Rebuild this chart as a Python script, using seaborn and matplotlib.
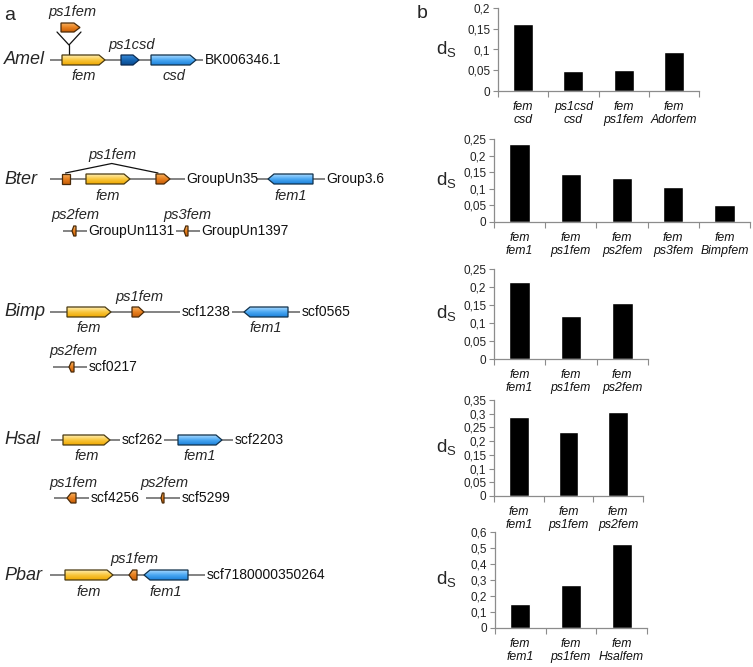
import numpy as np
import matplotlib
matplotlib.use('Agg')
import matplotlib.pyplot as plt
import matplotlib.transforms as mtrans
from matplotlib.patches import Polygon
from matplotlib.colors import LinearSegmentedColormap
from matplotlib.ticker import MultipleLocator, FuncFormatter
import seaborn as sns

# ---- panel b data: dS between gene pairs ----
amel_pairs = ['fem\ncsd', 'ps1csd\ncsd', 'fem\nps1fem', 'fem\nAdorfem']
amel_ds = [0.161, 0.048, 0.050, 0.093]
bter_pairs = ['fem\nfem1', 'fem\nps1fem', 'fem\nps2fem', 'fem\nps3fem', 'fem\nBimpfem']
bter_ds = [0.236, 0.144, 0.132, 0.105, 0.050]
bimp_pairs = ['fem\nfem1', 'fem\nps1fem', 'fem\nps2fem']
bimp_ds = [0.215, 0.120, 0.156]
hsal_pairs = ['fem\nfem1', 'fem\nps1fem', 'fem\nps2fem']
hsal_ds = [0.287, 0.232, 0.305]
pbar_pairs = ['fem\nfem1', 'fem\nps1fem', 'fem\nHsalfem']
pbar_ds = [0.149, 0.269, 0.527]

# ---- panel a data: schematic loci (diagram units) ----
# scaffolds: (start, end, name, row)
amel_scaffolds = [(50, 203, 'BK006346.1', 0)]
bter_scaffolds = [(50, 185, 'GroupUn35', 0), (257, 325, 'Group3.6', 0),
                  (63, 87, 'GroupUn1131', 1), (176, 200, 'GroupUn1397', 1)]
bimp_scaffolds = [(50, 180, 'scf1238', 0), (232, 300, 'scf0565', 0),
                  (53, 87, 'scf0217', 1)]
hsal_scaffolds = [(51, 120, 'scf262', 0), (164, 233, 'scf2203', 0),
                  (54, 89, 'scf4256', 1), (146, 180, 'scf5299', 1)]
pbar_scaffolds = [(50, 205, 'scf7180000350264', 0)]

# genes: (name, start, end, strand, kind, row, label side)
amel_genes = [('fem', 62, 105, 1, 'fem', 0, 'below'),
              ('ps1csd', 121, 139, 1, 'pscsd', 0, 'above'),
              ('csd', 151, 196, 1, 'blue', 0, 'below'),
              ('ps1fem', 61, 80, 1, 'ps', 1, 'above')]
bter_genes = [('', 62, 70, 0, 'ps', 0, None),
              ('fem', 86, 130, 1, 'fem', 0, 'below'),
              ('', 156, 170, 1, 'ps', 0, None),
              ('fem1', 268, 313, -1, 'blue', 0, 'below'),
              ('ps2fem', 72, 76, -1, 'ps', 1, 'above'),
              ('ps3fem', 184, 188, -1, 'ps', 1, 'above')]
bimp_genes = [('fem', 67, 111, 1, 'fem', 0, 'below'),
              ('ps1fem', 132, 144, 1, 'ps', 0, 'above'),
              ('fem1', 244, 288, -1, 'blue', 0, 'below'),
              ('ps2fem', 69, 74, -1, 'ps', 1, 'above')]
hsal_genes = [('fem', 63, 110, 1, 'fem', 0, 'below'),
              ('fem1', 178, 222, 1, 'blue', 0, 'below'),
              ('ps1fem', 67, 76, -1, 'ps', 1, 'above'),
              ('ps2fem', 161, 164, -1, 'ps', 1, 'above')]
pbar_genes = [('fem', 65, 113, 1, 'fem', 0, 'below'),
              ('ps1fem', 129, 137, -1, 'ps', 0, 'above'),
              ('fem1', 144, 188, -1, 'blue', 0, 'below')]
amel_insert_site = 69  # ps1fem inserted into fem

species = ['Amel', 'Bter', 'Bimp', 'Hsal', 'Pbar']
track_y = [[60, 27.5], [179, 231], [312, 367], [440, 498], [575]]

sns.set_theme(style='white')
plt.rcParams['font.family'] = ['Liberation Sans', 'DejaVu Sans']

W, H = 753, 667
fig = plt.figure(figsize=(W / 100, H / 100), dpi=100)
fig.patch.set_facecolor('white')

gene_cmaps = {
    'fem': LinearSegmentedColormap.from_list('fem', ['#ffeeb0', '#f9c63c', '#eea800']),
    'ps': LinearSegmentedColormap.from_list('ps', ['#f7b060', '#e8801e', '#c85f08']),
    'pscsd': LinearSegmentedColormap.from_list('pscsd', ['#3a8ad6', '#1766b4', '#0a4a8c']),
    'blue': LinearSegmentedColormap.from_list('blue', ['#a6d8ff', '#4aa8f2', '#1c80da']),
}
edge_cols = {'fem': '#4a3a10', 'ps': '#4a2a08', 'pscsd': '#0a2a50', 'blue': '#10304a'}


def draw_gene(ax, x0, x1, y, strand, kind, h=10):
    head = 0 if strand == 0 else min(6, 0.45 * (x1 - x0))
    if strand >= 0:
        pts = [(x0, y - h / 2), (x1 - head, y - h / 2), (x1, y),
               (x1 - head, y + h / 2), (x0, y + h / 2)]
    else:
        pts = [(x0, y), (x0 + head, y - h / 2), (x1, y - h / 2),
               (x1, y + h / 2), (x0 + head, y + h / 2)]
    poly = Polygon(pts, closed=True, fc='none', ec=edge_cols[kind], lw=0.9, zorder=4)
    ax.add_patch(poly)
    grad = np.linspace(0, 1, 40).reshape(-1, 1)
    im = ax.imshow(grad, cmap=gene_cmaps[kind], extent=(x0, x1, y + h / 2, y - h / 2),
                   aspect='auto', zorder=3, interpolation='bilinear')
    im.set_clip_path(poly)


# ---- panel a ----
axa = fig.add_axes([0, 0, 380 / W, 1])
axa.set_xlim(0, 380)
axa.set_ylim(H, 0)
axa.axis('off')

all_scaffolds = [amel_scaffolds, bter_scaffolds, bimp_scaffolds, hsal_scaffolds, pbar_scaffolds]
all_genes = [amel_genes, bter_genes, bimp_genes, hsal_genes, pbar_genes]

for sp, ys, scafs, genes in zip(species, track_y, all_scaffolds, all_genes):
    axa.text(4, ys[0], sp, fontsize=13, fontstyle='italic', ha='left', va='center')
    for s, e, name, row in scafs:
        axa.plot([s, e], [ys[row], ys[row]], color='#7a7a7a', lw=1.3, zorder=2,
                 solid_capstyle='butt')
        axa.text(e + 1.5, ys[row], name, fontsize=10, ha='left', va='center', color='#111')
    for name, s, e, strand, kind, row, side in genes:
        y = ys[row]
        h = 9 if (sp == 'Amel' and row == 1) else 10
        draw_gene(axa, s, e, y, strand, kind, h=h)
        if side == 'below':
            axa.text((s + e) / 2, y + 16.5, name, fontsize=10.5, fontstyle='italic',
                     ha='center', va='center')
        elif side == 'above':
            axa.text((s + e) / 2 + 1.5, y - 15.5, name, fontsize=10.5, fontstyle='italic',
                     ha='center', va='center')

# Amel: Y-shaped insertion of ps1fem into fem
yi, yf = track_y[0][1], track_y[0][0]
axa.plot([amel_insert_site - 12, amel_insert_site, amel_insert_site + 12],
         [yi + 4.5, yf - 15, yi + 4.5], color='#111', lw=0.9, zorder=2)
axa.plot([amel_insert_site, amel_insert_site], [yf - 15, yf - 5], color='#111', lw=0.9, zorder=2)

# Bter: split ps1fem exons joined by a connector
ex1, ex2 = bter_genes[0], bter_genes[2]
yb = track_y[1][0]
c1, c2 = (ex1[1] + ex1[2]) / 2 - 0.5, (ex2[1] + ex2[2]) / 2 - 5
peak = (c1 + c2) / 2
axa.plot([c1, peak, c2], [yb - 6, yb - 15.5, yb - 6], color='#111', lw=0.9, zorder=2)
axa.text(peak + 1, yb - 24, 'ps1fem', fontsize=10.5, fontstyle='italic',
         ha='center', va='center')

fig.text(10 / W, 1 - 15 / H, 'a', fontsize=14, ha='center', va='center')
fig.text(422 / W, 1 - 14 / H, 'b', fontsize=14, ha='center', va='center')

# ---- panel b ----
charts = [(amel_pairs, amel_ds, 0.2, 0.05), (bter_pairs, bter_ds, 0.25, 0.05),
          (bimp_pairs, bimp_ds, 0.25, 0.05), (hsal_pairs, hsal_ds, 0.35, 0.05),
          (pbar_pairs, pbar_ds, 0.6, 0.1)]
# (left px, right px, zero px, top px)
boxes = [(498, 699, 91, 8), (494, 750, 222, 139), (494, 648, 359, 269),
         (494, 643, 496, 400), (495, 647, 628, 532)]

fmt = FuncFormatter(lambda v, p: f'{v:.2f}'.rstrip('0').rstrip('.').replace('.', ','))
grey = '#8c8c8c'

for (labels, vals, ymax, step), (l, r, y0, yt) in zip(charts, boxes):
    ax = fig.add_axes([l / W, 1 - y0 / H, (r - l) / W, (y0 - yt) / H])
    n = len(labels)
    sns.barplot(x=labels, y=vals, color='black', width=0.4, saturation=1, ax=ax)
    ax.set_xlim(-0.5, n - 0.5)
    ax.set_ylim(0, ymax)
    ax.yaxis.set_major_locator(MultipleLocator(step))
    ax.yaxis.set_major_formatter(fmt)
    ax.set_xticks(range(n))
    ax.set_xticklabels(labels, fontstyle='italic', linespacing=1.12)
    ax.set_xticks(np.arange(-0.5, n), minor=True)
    ax.tick_params(axis='x', which='major', bottom=True, length=0, pad=7.5,
                   labelsize=8.8, labelcolor='#111')
    ax.tick_params(axis='x', which='minor', bottom=True, length=4, color=grey,
                   width=0.8, direction='out')
    ax.tick_params(axis='y', left=True, length=3.5, color=grey, width=0.8,
                   direction='out', labelsize=8.5, pad=2, labelcolor='#222')
    sns.despine(ax=ax)
    for side in ['left', 'bottom']:
        ax.spines[side].set_color(grey)
        ax.spines[side].set_linewidth(0.9)
    ax.set_xlabel('')
    ax.set_ylabel(r'd$_\mathregular{S}$', rotation=0, fontsize=13.5, ha='center', va='center')
    ax.yaxis.set_label_coords(446 / W, 0.5,
                              transform=mtrans.blended_transform_factory(fig.transFigure, ax.transAxes))

fig.savefig('out.png', dpi=100)
